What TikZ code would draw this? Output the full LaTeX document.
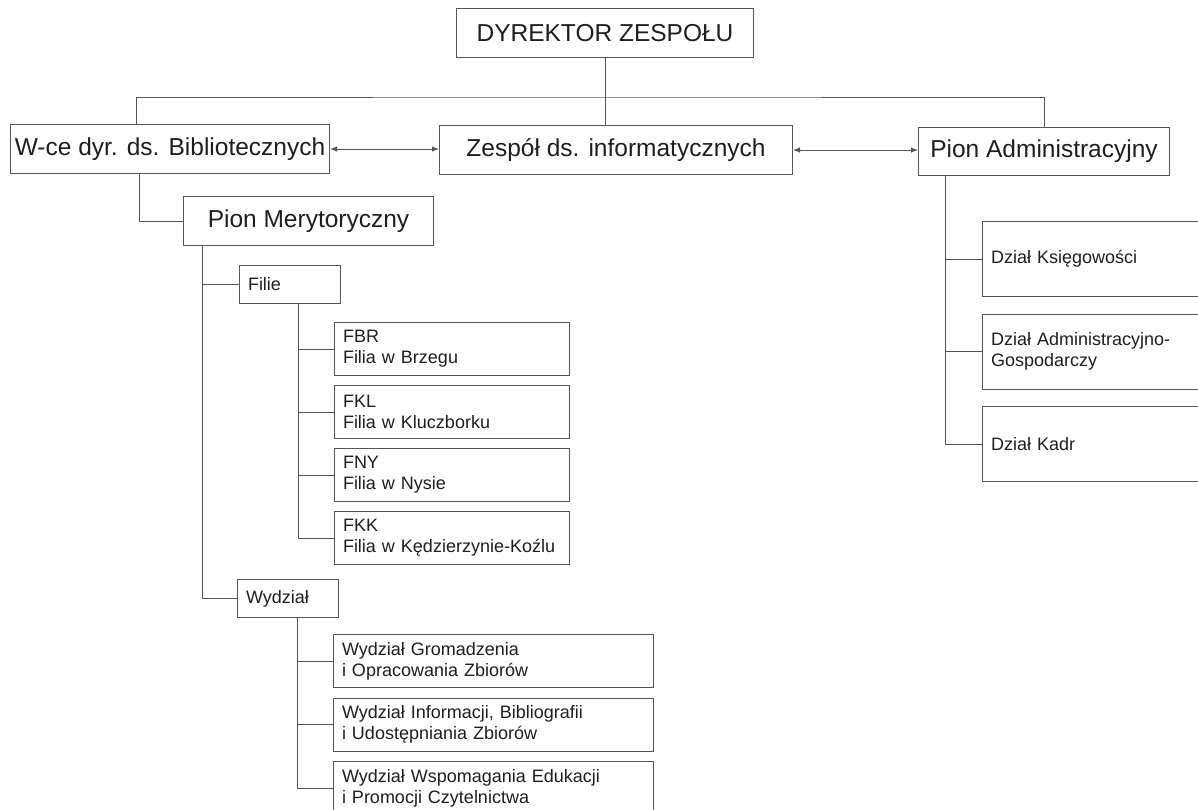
\documentclass[tikz,border=0pt]{standalone}
\usepackage{fontspec}
\setmainfont{Liberation Sans}
\usetikzlibrary{positioning,arrows.meta}
\definecolor{linegray}{RGB}{85,85,85}
\definecolor{textgray}{RGB}{30,30,30}
\tikzset{
    link/.style={draw=linegray, line width=1pt},
    both/.style={link, >={Latex[length=7pt,width=5.5pt]}, <->},
    unit/.style={link, text=textgray, anchor=north west, inner sep=0pt, align=center,
        font=\fontsize{24.5}{28}\selectfont},
    dbox/.style 2 args={link, text=textgray, anchor=north west, inner xsep=8.5pt, inner ysep=0pt,
        align=left, text width=#1, minimum height=#2, font=\fontsize{18}{21}\selectfont}
}
\begin{document}
\begin{tikzpicture}[x=1pt,y=-1pt]
    \useasboundingbox (0,0) rectangle (1198,809);
    \clip (0,0) rectangle (1198,809);

    \node[unit, minimum width=297pt, minimum height=49pt] (dyr) at (456,8) {DYREKTOR ZESPOŁU};
    \node[unit, minimum width=319pt, minimum height=49pt] (wce) at (10,124) {W-ce dyr. ds. Bibliotecznych};
    \node[unit, minimum width=353pt, minimum height=49pt] (zesp) at (439,125) {Zespół ds. informatycznych};
    \node[unit, minimum width=251pt, minimum height=48pt] (adm) at (918,127) {Pion Administracyjny};
    \node[unit, minimum width=250pt, minimum height=49pt] (mer) at (183,196) {Pion Merytoryczny};

    \node[dbox={84pt}{38pt}] (filie) at (239,265) {Filie};
    \node[dbox={218pt}{53pt}] (fbr) at (334,322) {FBR\\Filia w Brzegu};
    \node[dbox={218pt}{53pt}, below=9pt of fbr.south west, anchor=north west] (fkl) {FKL\\Filia w Kluczborku};
    \node[dbox={218pt}{53pt}, below=9pt of fkl.south west, anchor=north west] (fny) {FNY\\Filia w Nysie};
    \node[dbox={218pt}{53pt}, below=9pt of fny.south west, anchor=north west] (fkk) {FKK\\Filia w Kędzierzynie-Koźlu};

    \node[dbox={84pt}{38pt}] (wydz) at (237,579) {Wydział};
    \node[dbox={303pt}{53pt}] (wg) at (333,634) {Wydział Gromadzenia\\i Opracowania Zbiorów};
    \node[dbox={303pt}{53pt}, below=9.5pt of wg.south west, anchor=north west] (wi) {Wydział Informacji, Bibliografii\\i Udostępniania Zbiorów};
    \node[dbox={303pt}{53pt}, below=9.5pt of wi.south west, anchor=north west] (ww) {Wydział Wspomagania Edukacji\\i Promocji Czytelnictwa};

    \node[dbox={243pt}{75pt}] (ksieg) at (982,221) {Dział Księgowości};
    \node[dbox={243pt}{75pt}, below=16.5pt of ksieg.south west, anchor=north west] (gosp) {Dział Administracyjno-\\Gospodarczy};
    \node[dbox={243pt}{75pt}, below=16.5pt of gosp.south west, anchor=north west] (kadr) {Dział Kadr};

    \coordinate (bus) at (604,97);
    \draw[link] (dyr.south) -- (dyr.south |- zesp.north);
    \draw[link] ([xshift=126pt]wce.north west) |- (bus) -| ([xshift=126pt]adm.north west);
    \draw[both] (wce.east) -- (wce.east -| zesp.west);
    \draw[both] (zesp.east) -- (zesp.east -| adm.west);

    \draw[link] ([xshift=129pt]wce.south west) |- (mer.west);
    \draw[link] ([xshift=19pt]mer.south west) |- (filie.west);
    \draw[link] ([xshift=19pt]mer.south west) |- (wydz.west);
    \foreach \n in {fbr,fkl,fny,fkk}
        \draw[link] ([xshift=59pt]filie.south west) |- (\n.west);
    \foreach \n in {wg,wi,ww}
        \draw[link] ([xshift=60pt]wydz.south west) |- (\n.west);
    \foreach \n in {ksieg,gosp,kadr}
        \draw[link] ([xshift=27pt]adm.south west) |- (\n.west);
\end{tikzpicture}
\end{document}
